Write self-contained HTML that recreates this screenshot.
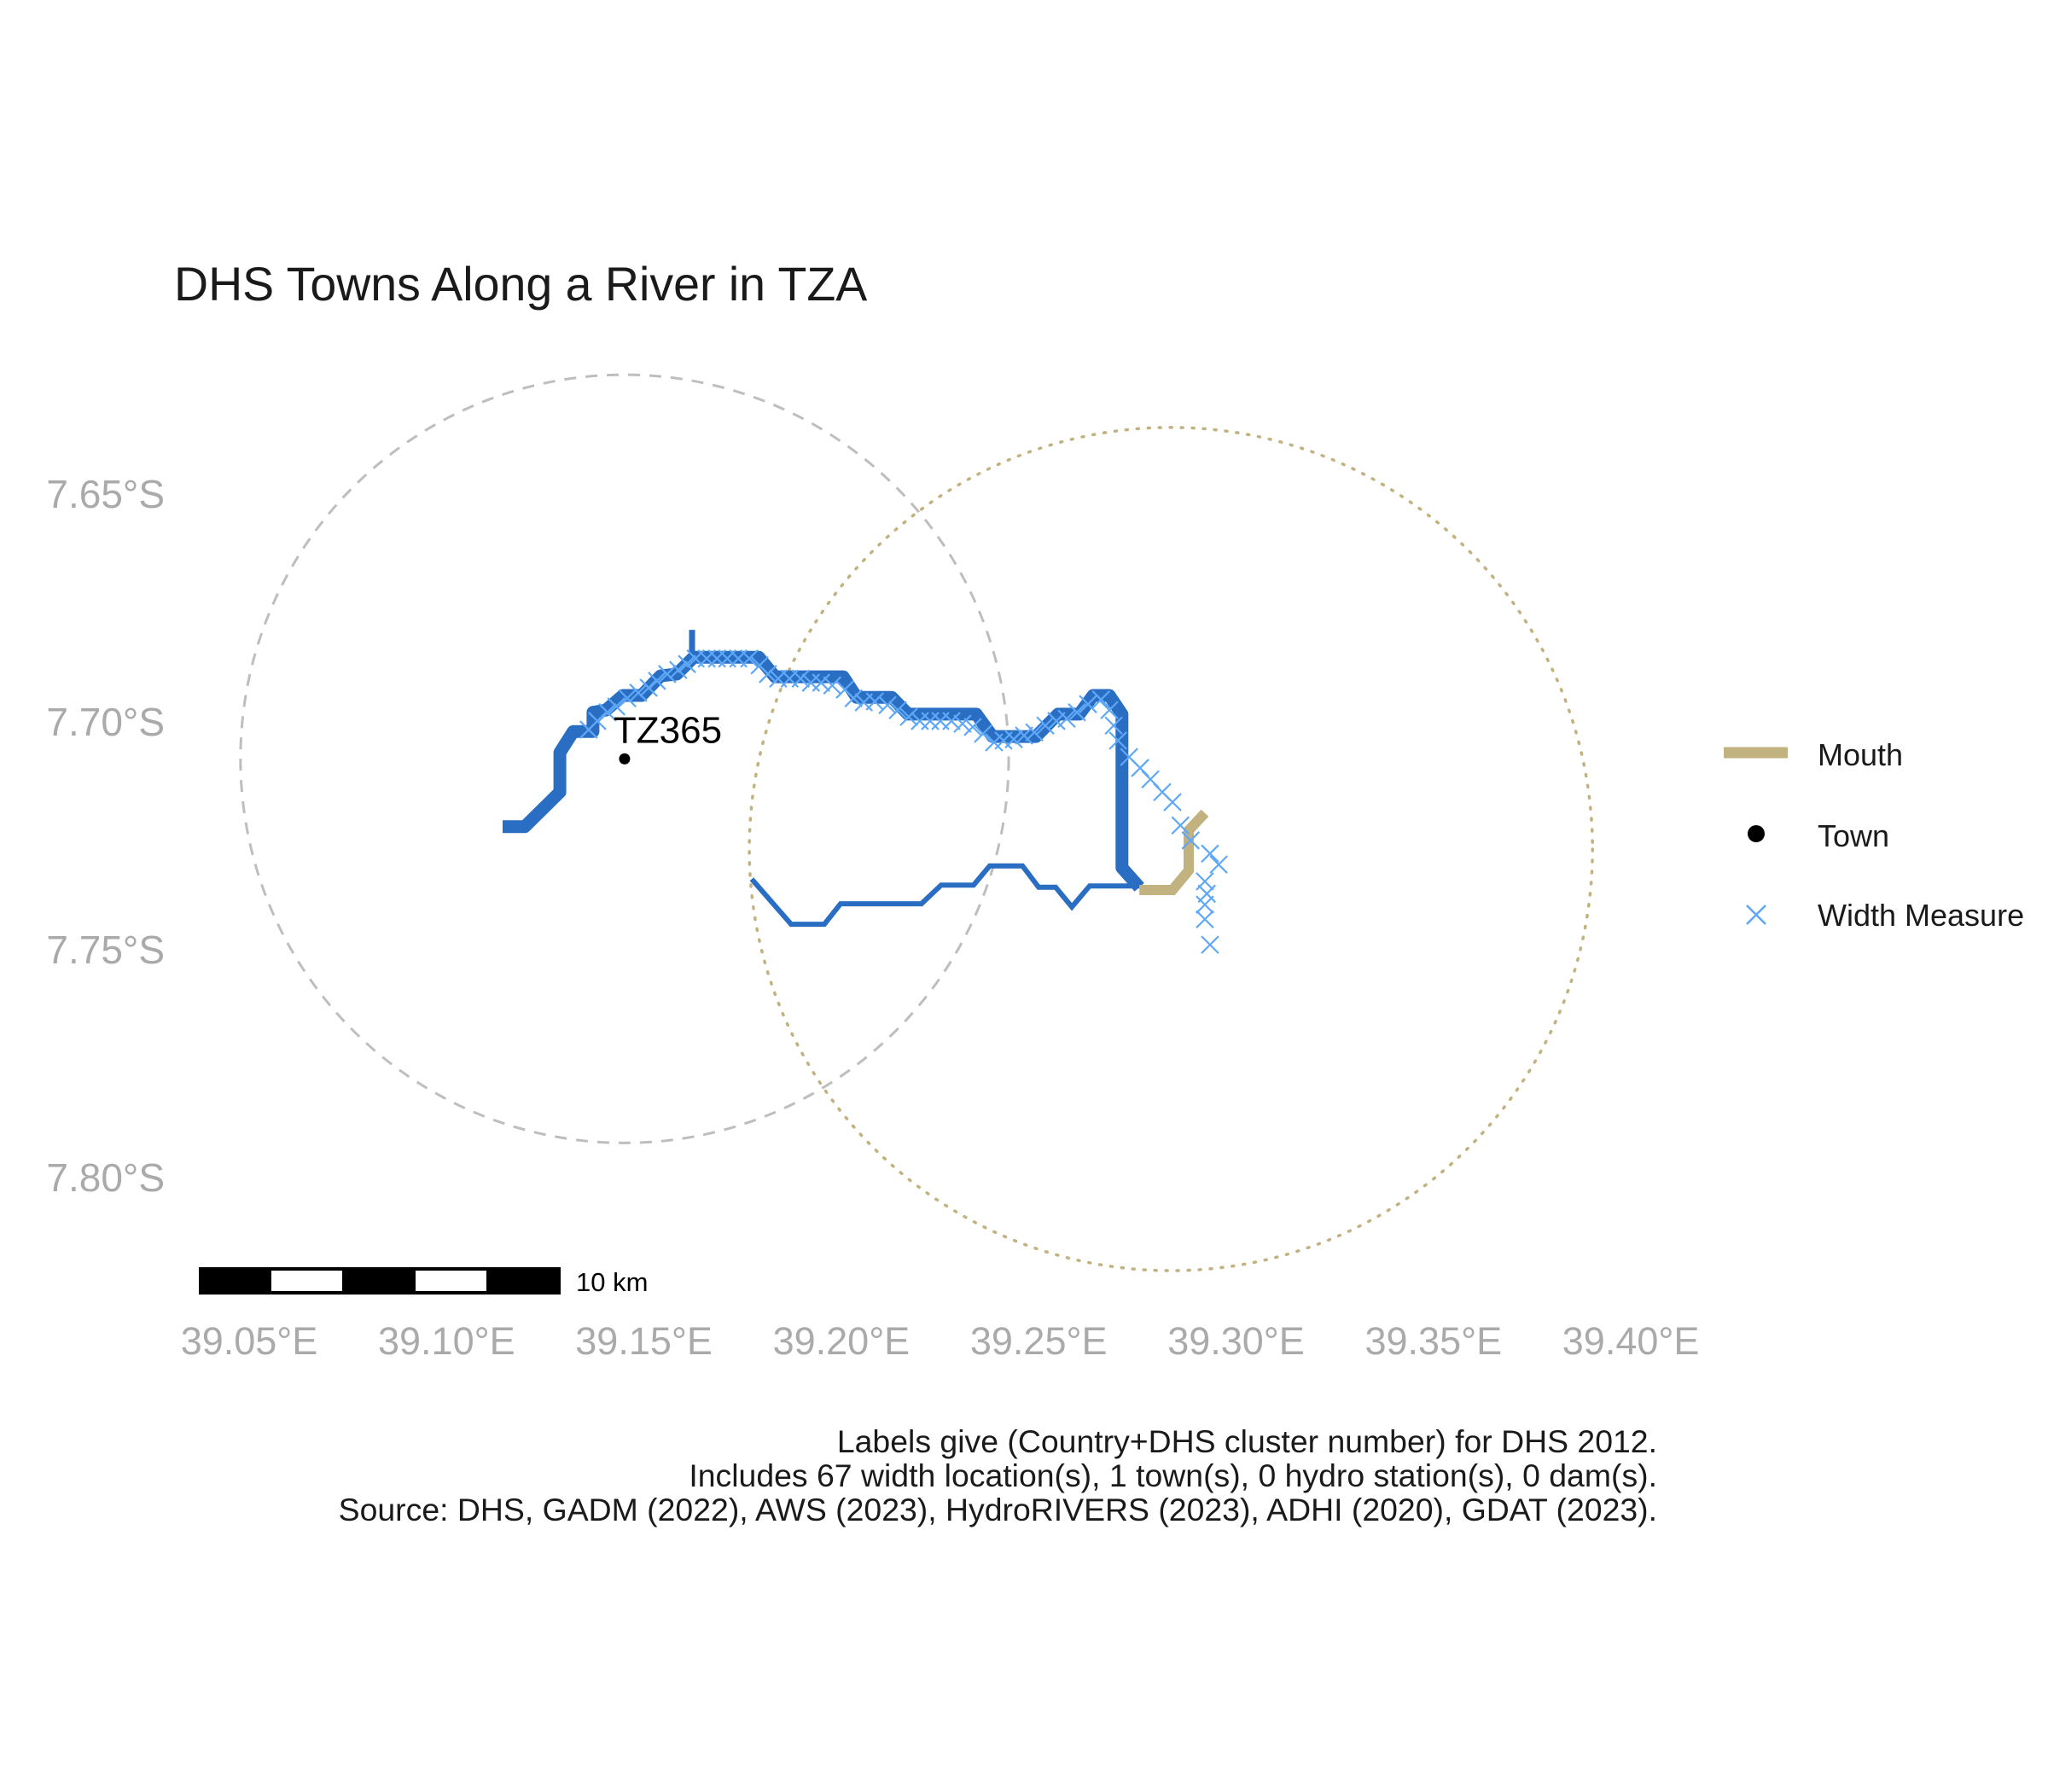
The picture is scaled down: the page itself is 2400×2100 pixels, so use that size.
<!DOCTYPE html>
<html><head><meta charset="utf-8"><style>
html,body{margin:0;padding:0;background:#fff;}
svg{display:block;font-family:"Liberation Sans",Arial,sans-serif;}
</style></head><body>
<svg id="chart" width="2400" height="2100" viewBox="0 0 2400 2100" xmlns="http://www.w3.org/2000/svg">
<rect width="2400" height="2100" fill="#fff"/>
<text x="204" y="352" font-size="55.5" fill="#1a1a1a">DHS Towns Along a River in TZA</text>
<g id="axes"></g>
<g id="marks"></g>
<g>
<rect x="233" y="1485" width="424" height="32" fill="#000"/>
<rect x="318" y="1489" width="83" height="24" fill="#fff"/>
<rect x="487" y="1489" width="83" height="24" fill="#fff"/>
<text x="675" y="1513" font-size="31" fill="#000">10 km</text>
</g>
<g>
<line x1="2020" y1="882" x2="2095" y2="882" stroke="#c2b280" stroke-width="13"/>
<text x="2130" y="897" font-size="36" fill="#1a1a1a">Mouth</text>
<circle cx="2058" cy="977" r="10" fill="#000"/>
<text x="2130" y="992" font-size="36" fill="#1a1a1a">Town</text>
<path d="M2047 1061 L2069 1083 M2069 1061 L2047 1083" stroke="#5ea8f7" stroke-width="2.5"/>
<text x="2130" y="1085" font-size="36" fill="#1a1a1a">Width Measure</text>
</g>
<g font-size="37.4" fill="#1a1a1a" text-anchor="end">
<text x="1942" y="1702">Labels give (Country+DHS cluster number) for DHS 2012.</text>
<text x="1942" y="1742">Includes 67 width location(s), 1 town(s), 0 hydro station(s), 0 dam(s).</text>
<text x="1942" y="1782">Source: DHS, GADM (2022), AWS (2023), HydroRIVERS (2023), ADHI (2020), GDAT (2023).</text>
</g>
</svg>
<script>
const xTicks=[39.05,39.10,39.15,39.20,39.25,39.30,39.35,39.40];
const xTickLabels=["39.05°E","39.10°E","39.15°E","39.20°E","39.25°E","39.30°E","39.35°E","39.40°E"];
const yTicks=[7.65,7.70,7.75,7.80];
const yTickLabels=["7.65°S","7.70°S","7.75°S","7.80°S"];
const mainLon=[39.1142,39.1198,39.1287,39.1287,39.1321,39.1371,39.1371,39.1404,39.1447,39.1494,39.1542,39.1583,39.1626,39.1791,39.1832,39.2005,39.2039,39.2128,39.2169,39.2342,39.2383,39.2493,39.2549,39.2603,39.2638,39.2679,39.2711,39.2711,39.2742,39.2755];
const mainLat=[7.7230,7.7230,7.7154,7.7067,7.7021,7.7021,7.6979,7.6974,7.6942,7.6942,7.6899,7.6895,7.6858,7.6858,7.6901,7.6901,7.6946,7.6946,7.6983,7.6983,7.7032,7.7032,7.6983,7.6983,7.6942,7.6942,7.6983,7.7320,7.7350,7.7363];
const spurLon=[39.1622,39.1622];
const spurLat=[7.6798,7.6858];
const tribLon=[39.1773,39.1873,39.1957,39.1998,39.2203,39.2253,39.2335,39.2376,39.2459,39.2500,39.2543,39.2584,39.2629,39.2755];
const tribLat=[7.7345,7.7444,7.7444,7.7399,7.7399,7.7358,7.7358,7.7316,7.7316,7.7363,7.7363,7.7406,7.7360,7.7360];
const mouthLon=[39.2755,39.2839,39.2880,39.2880,39.2921];
const mouthLat=[7.7369,7.7369,7.7326,7.7238,7.7200];
const townLon=[39.1451];
const townLat=[7.7081];
const townLabels=["TZ365"];
const widthLon=[39.1360,39.1382,39.1408,39.1430,39.1458,39.1486,39.1512,39.1533,39.1559,39.1587,39.1609,39.1631,39.1659,39.1685,39.1711,39.1739,39.1767,39.1793,39.1814,39.1840,39.1869,39.1897,39.1923,39.1949,39.1977,39.2009,39.2031,39.2057,39.2085,39.2117,39.2143,39.2171,39.2199,39.2225,39.2251,39.2279,39.2307,39.2333,39.2359,39.2387,39.2411,39.2437,39.2463,39.2489,39.2517,39.2545,39.2571,39.2597,39.2625,39.2658,39.2679,39.2690,39.2701,39.2729,39.2757,39.2783,39.2813,39.2839,39.2859,39.2885,39.2934,39.2956,39.2921,39.2926,39.2921,39.2921,39.2934];
const widthLat=[7.7017,7.6998,7.6979,7.6966,7.6948,7.6936,7.6925,7.6910,7.6895,7.6886,7.6873,7.6861,7.6861,7.6861,7.6861,7.6861,7.6861,7.6876,7.6895,7.6905,7.6905,7.6905,7.6914,7.6914,7.6920,7.6929,7.6948,7.6957,7.6955,7.6963,7.6974,7.6989,7.6998,7.6998,7.6998,7.6998,7.7004,7.7011,7.7026,7.7045,7.7041,7.7038,7.7030,7.7023,7.7008,7.6998,7.6993,7.6979,7.6961,7.6951,7.6974,7.7008,7.7041,7.7077,7.7101,7.7126,7.7154,7.7176,7.7227,7.7260,7.7289,7.7313,7.7350,7.7377,7.7401,7.7433,7.7489];
const circleLon=[39.1451,39.2835];
const circleLat=[7.7081,7.7279];
const circleRadiusDeg=[0.0973,0.1068];

const NS="http://www.w3.org/2000/svg";
function xs(lon){return 292+(lon-39.05)*4626;}
function ys(lat){return 579+(lat-7.65)*5340;}
function mk(tag,attrs,parent){const e=document.createElementNS(NS,tag);for(const k in attrs)e.setAttribute(k,attrs[k]);parent.appendChild(e);return e;}
const axes=document.getElementById('axes');
const marks=document.getElementById('marks');

xTicks.forEach((v,i)=>{
  const t=mk('text',{x:xs(v),y:1587,'font-size':45,fill:'#aaaaaa','text-anchor':'middle'},axes);
  
  
  t.textContent=xTickLabels[i];
});
yTicks.forEach((v,i)=>{
  const t=mk('text',{x:193,y:ys(v)+16,'font-size':46,fill:'#aaaaaa','text-anchor':'end'},axes);
  
  
  t.textContent=yTickLabels[i];
});

const c1=mk('circle',{cx:xs(circleLon[0]),cy:ys(circleLat[0]),r:circleRadiusDeg[0]*4626,fill:'none',stroke:'#bebebe','stroke-width':3,'stroke-dasharray':'14 11'},marks);


const c2=mk('circle',{cx:xs(circleLon[1]),cy:ys(circleLat[1]),r:circleRadiusDeg[1]*4626,fill:'none',stroke:'#c2b280','stroke-width':3.5,'stroke-dasharray':'2 11','stroke-linecap':'round'},marks);



function pts(lons,lats){return lons.map((l,i)=>xs(l).toFixed(1)+','+ys(lats[i]).toFixed(1)).join(' ');}
const trib=mk('polyline',{points:pts(tribLon,tribLat),fill:'none',stroke:'#2a6ec4','stroke-width':6},marks);


const spur=mk('polyline',{points:pts(spurLon,spurLat),fill:'none',stroke:'#2a6ec4','stroke-width':7},marks);


const main=mk('polyline',{points:pts(mainLon,mainLat),fill:'none',stroke:'#2a6ec4','stroke-width':15,'stroke-linejoin':'round'},marks);


const mouth=mk('polyline',{points:pts(mouthLon,mouthLat),fill:'none',stroke:'#c2b280','stroke-width':12},marks);



widthLon.forEach((l,i)=>{
  const x=xs(l),y=ys(widthLat[i]),s=10;
  const p=mk('path',{d:`M${x-s} ${y-s} L${x+s} ${y+s} M${x+s} ${y-s} L${x-s} ${y+s}`,stroke:'#5ea8f7','stroke-width':2.2,fill:'none'},marks);
  
  
});

townLon.forEach((l,i)=>{
  const d=mk('circle',{cx:xs(l),cy:ys(townLat[i]),r:6.5,fill:'#000'},marks);
  
  
  const t=mk('text',{x:xs(l)-13,y:ys(townLat[i])-19,'font-size':44,fill:'#000'},marks);
  
  
  t.textContent=townLabels[i];
});
</script>
</body></html>
